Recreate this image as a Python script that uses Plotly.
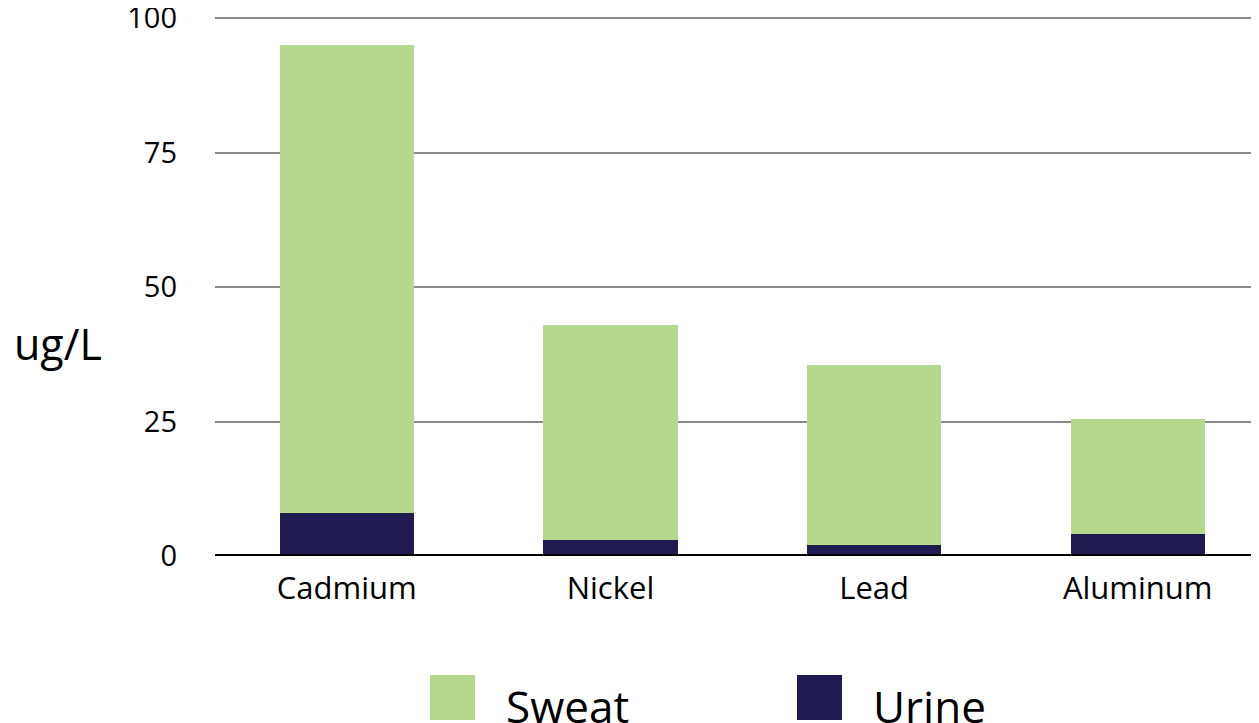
import plotly.graph_objects as go

categories = ["Cadmium", "Nickel", "Lead", "Aluminum"]
urine = [8, 3, 2, 4]
sweat = [87, 40, 33.6, 21.4]
series_names = ["Sweat", "Urine"]
series_colors = ["#b4d88c", "#1f1a50"]
y_ticks = [0, 25, 50, 75, 100]
y_label = "ug/L"

FONT = "Open Sans"
# the page places the figure at an 8px offset; compensate
OFF = 8
W, H = 1259 - OFF, 723 - OFF
L, T, B = 215 - OFF, 9, 723 - 556
PH = H - T - B
PW = W - L


def px_x(page_x):
    return (page_x - OFF - L) / PW


def px_y(page_y):
    return (H - B - (page_y - OFF)) / PH


fig = go.Figure()
fig.add_trace(go.Bar(x=categories, y=urine, name=series_names[1],
                     marker=dict(color=series_colors[1], line=dict(width=0)),
                     width=0.51, showlegend=False))
fig.add_trace(go.Bar(x=categories, y=sweat, name=series_names[0],
                     marker=dict(color=series_colors[0], line=dict(width=0)),
                     width=0.51, showlegend=False))

fig.update_layout(
    barmode="stack",
    width=W, height=H,
    margin=dict(l=L, r=0, t=T, b=B, pad=0, autoexpand=False),
    plot_bgcolor="white", paper_bgcolor="white",
    font=dict(family=FONT, color="#000000", size=29),
    showlegend=False,
    xaxis=dict(range=[-0.5, 3.46], showgrid=False, showline=False,
               tickfont=dict(size=31), ticks="", ticklabelstandoff=11,
               automargin=False),
    yaxis=dict(range=[0, 100.2], tickvals=y_ticks, showgrid=True,
               gridcolor="#8a8a8a", gridwidth=1.5, zeroline=False,
               showline=False, ticks="", tickfont=dict(size=29),
               ticklabelstandoff=37, ticklabeloverflow="allow",
               automargin=False),
)
# baseline (zero) line
fig.add_shape(type="line", xref="paper", yref="y", x0=0, x1=1, y0=0, y1=0,
              line=dict(color="black", width=4), layer="above")

# y label
fig.add_annotation(text=y_label, xref="paper", yref="paper", x=px_x(12),
                   y=px_y(343), xanchor="left", yanchor="middle",
                   showarrow=False, font=dict(size=43))

# custom legend
legend_x = [430, 797]
for i, (nm, col) in enumerate(zip(series_names, series_colors)):
    fig.add_shape(type="rect", xref="paper", yref="paper",
                  x0=px_x(legend_x[i]), x1=px_x(legend_x[i] + 45),
                  y0=px_y(720), y1=px_y(675),
                  fillcolor=col, line=dict(width=0))
    fig.add_annotation(text=nm, xref="paper", yref="paper",
                       x=px_x(legend_x[i] + 74), y=px_y(706),
                       xanchor="left", yanchor="middle",
                       showarrow=False, font=dict(size=44))

fig.write_html("out.html")
